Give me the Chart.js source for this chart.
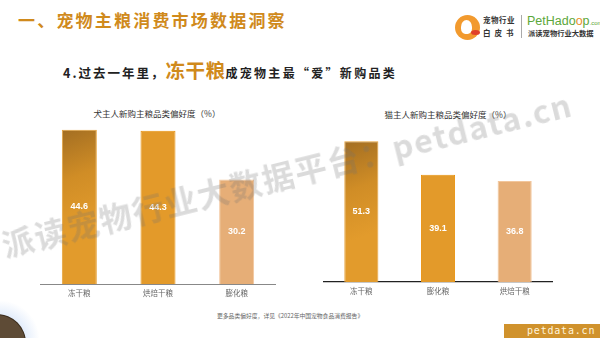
<!DOCTYPE html>
<html><head><meta charset="utf-8">
<script src="https://cdn.jsdelivr.net/npm/chart.js@4/dist/chart.umd.min.js"></script>
<style>
html,body{margin:0;padding:0;background:#fff;}
body{width:600px;height:338px;position:relative;overflow:hidden;font-family:"Noto Sans CJK SC","Noto Sans",sans-serif;}
.abs{position:absolute;white-space:nowrap;}
canvas{position:absolute;}
</style></head>
<body>
<!-- header -->
<div class="abs" style="left:18px;top:8px;font-size:17px;line-height:24px;font-weight:bold;color:#D08A1C;letter-spacing:2.2px;">一、宠物主粮消费市场数据洞察</div>
<div class="abs" style="left:455px;top:15px;width:25px;height:25px;border-radius:50%;background:#F29A2E;"></div>
<div class="abs" style="left:461px;top:20px;width:11px;height:14px;border-radius:50% 50% 40% 40%;background:#fff;"></div>
<div class="abs" style="left:471px;top:30px;width:9px;height:5px;border-radius:50%;background:#e0402a;"></div>
<div class="abs" style="left:483px;top:15px;font-size:7.5px;line-height:10px;font-weight:bold;color:#333;letter-spacing:0.5px;">宠物行业</div>
<div class="abs" style="left:483px;top:28px;font-size:7.5px;line-height:10px;font-weight:bold;color:#333;letter-spacing:4px;">白皮书</div>
<div class="abs" style="left:521px;top:15px;width:1px;height:23px;background:#aaa;"></div>
<div class="abs" style="left:527px;top:14px;font-family:'Liberation Sans',Arial,sans-serif;font-size:12.5px;line-height:15px;color:#5BA73A;">PetHad<span style="color:#5BA73A">o</span><span style="color:#E8902A">o</span>p<span style="font-size:6px;">.com</span></div>
<div class="abs" style="left:528px;top:29px;font-size:7.3px;line-height:9px;font-weight:bold;color:#333;">派读宠物行业大数据</div>

<!-- subtitle -->
<div class="abs" style="left:63px;top:58px;line-height:24px;font-weight:bold;color:#222;">
<span style="font-size:12.5px;letter-spacing:2px;">4.过去一年里，</span><span style="font-size:19.5px;color:#D08A1C;letter-spacing:0.5px;">冻干粮</span><span style="font-size:12px;letter-spacing:2.3px;">成宠物主最“爱”新购品类</span>
</div>

<!-- chart titles -->
<div class="abs" style="left:157px;top:107px;transform:translateX(-50%);font-size:8.5px;line-height:12px;color:#333;">犬主人新购主粮品类偏好度（%）</div>
<div class="abs" style="left:448px;top:108px;transform:translateX(-50%);font-size:8.5px;line-height:12px;color:#333;">猫主人新购主粮品类偏好度（%）</div>

<canvas id="dogChart" width="236" height="192" style="left:40px;top:111px;width:236px;height:192px;"></canvas>
<canvas id="catChart" width="230" height="170" style="left:323px;top:131px;width:230px;height:170px;"></canvas>

<!-- footer -->
<div class="abs" style="left:217px;top:312px;font-size:5.8px;line-height:8px;color:#666;">更多品类偏好度，详见《2022年中国宠物食品消费报告》</div>
<div class="abs" style="left:504px;top:324px;width:96px;height:14px;background:#D0922C;"></div>
<div class="abs" style="left:527px;top:324px;font-family:'DejaVu Sans Mono','Liberation Mono',monospace;font-size:10px;line-height:14px;color:#FFF4DC;letter-spacing:0.8px;">petdata.cn</div>
<div class="abs" style="left:-40px;top:300px;width:80px;height:80px;border-radius:50%;background:radial-gradient(circle, rgba(220,232,250,0.9) 40%, rgba(255,255,255,0) 70%);"></div>
<div class="abs" style="left:-31px;top:315px;width:56px;height:56px;border-radius:50%;background:#5E4B36;box-shadow:0 0 0 1px #3a2c1c;"></div>

<!-- watermark -->
<div class="abs" style="left:2px;top:226px;font-size:32px;line-height:36px;font-weight:bold;color:rgba(110,110,110,0.25);letter-spacing:1.5px;transform-origin:0 50%;transform:rotate(-14deg);pointer-events:none;z-index:10;">派读宠物行业大数据平台：petdata.cn</div>

<script>
const dogCategories = ['冻干粮', '烘焙干粮', '膨化粮'];
const dogValues = [44.6, 44.3, 30.2];
const catCategories = ['冻干粮', '膨化粮', '烘焙干粮'];
const catValues = [51.3, 39.1, 36.8];

const barColors = ['#C98A25', '#E39A2A', '#E6AE77'];
const barBorders = ['#E6A23A', '#E8920F', '#F2C69C'];

function barFill(context) {
  const i = context.dataIndex;
  if (i !== 0) return barColors[i];
  const chart = context.chart;
  const xs = chart.scales.x, ys = chart.scales.y;
  if (!chart.chartArea || !xs || !ys) return barColors[0];
  const cx = xs.getPixelForValue(0);
  const half = xs.width / chart.data.labels.length * 0.445 / 2;
  const top = ys.getPixelForValue(context.dataset.data[0]);
  const g = chart.ctx.createLinearGradient(cx - half, top, cx + half, top + 90);
  g.addColorStop(0, '#A36E22');
  g.addColorStop(0.5, '#D08D26');
  g.addColorStop(1, '#E29B2C');
  return g;
}

const valueLabels = {
  id: 'valueLabels',
  afterDatasetsDraw(chart) {
    const ctx = chart.ctx;
    const meta = chart.getDatasetMeta(0);
    const data = chart.data.datasets[0].data;
    ctx.save();
    ctx.fillStyle = '#fff';
    ctx.font = 'bold 9px "Liberation Sans", Arial, sans-serif';
    ctx.textAlign = 'center';
    ctx.textBaseline = 'middle';
    meta.data.forEach((el, i) => {
      ctx.fillText(data[i].toFixed(1), el.x, (el.y + el.base) / 2);
    });
    ctx.restore();
  }
};

function makeChart(id, labels, values, yMax, axisColor, axisWidth) {
  return new Chart(document.getElementById(id), {
    type: 'bar',
    data: {
      labels: labels,
      datasets: [{
        data: values,
        backgroundColor: barFill,
        borderColor: barBorders,
        borderWidth: 1,
        categoryPercentage: 1,
        barPercentage: 0.445
      }]
    },
    options: {
      responsive: false,
      animation: false,
      devicePixelRatio: 1,
      layout: { padding: 0 },
      plugins: { legend: { display: false }, tooltip: { enabled: false }, title: { display: false } },
      scales: {
        x: {
          grid: { display: false, drawTicks: false },
          border: { display: true, color: axisColor, width: axisWidth },
          ticks: { color: '#666', padding: 5, font: { size: 7.5, family: '"Noto Sans CJK SC", sans-serif' } }
        },
        y: { display: false, min: 0, max: yMax }
      }
    },
    plugins: [valueLabels]
  });
}

makeChart('dogChart', dogCategories, dogValues, 50, '#888', 1);
makeChart('catChart', catCategories, catValues, 55, '#222', 1.3);
</script>
</body></html>
